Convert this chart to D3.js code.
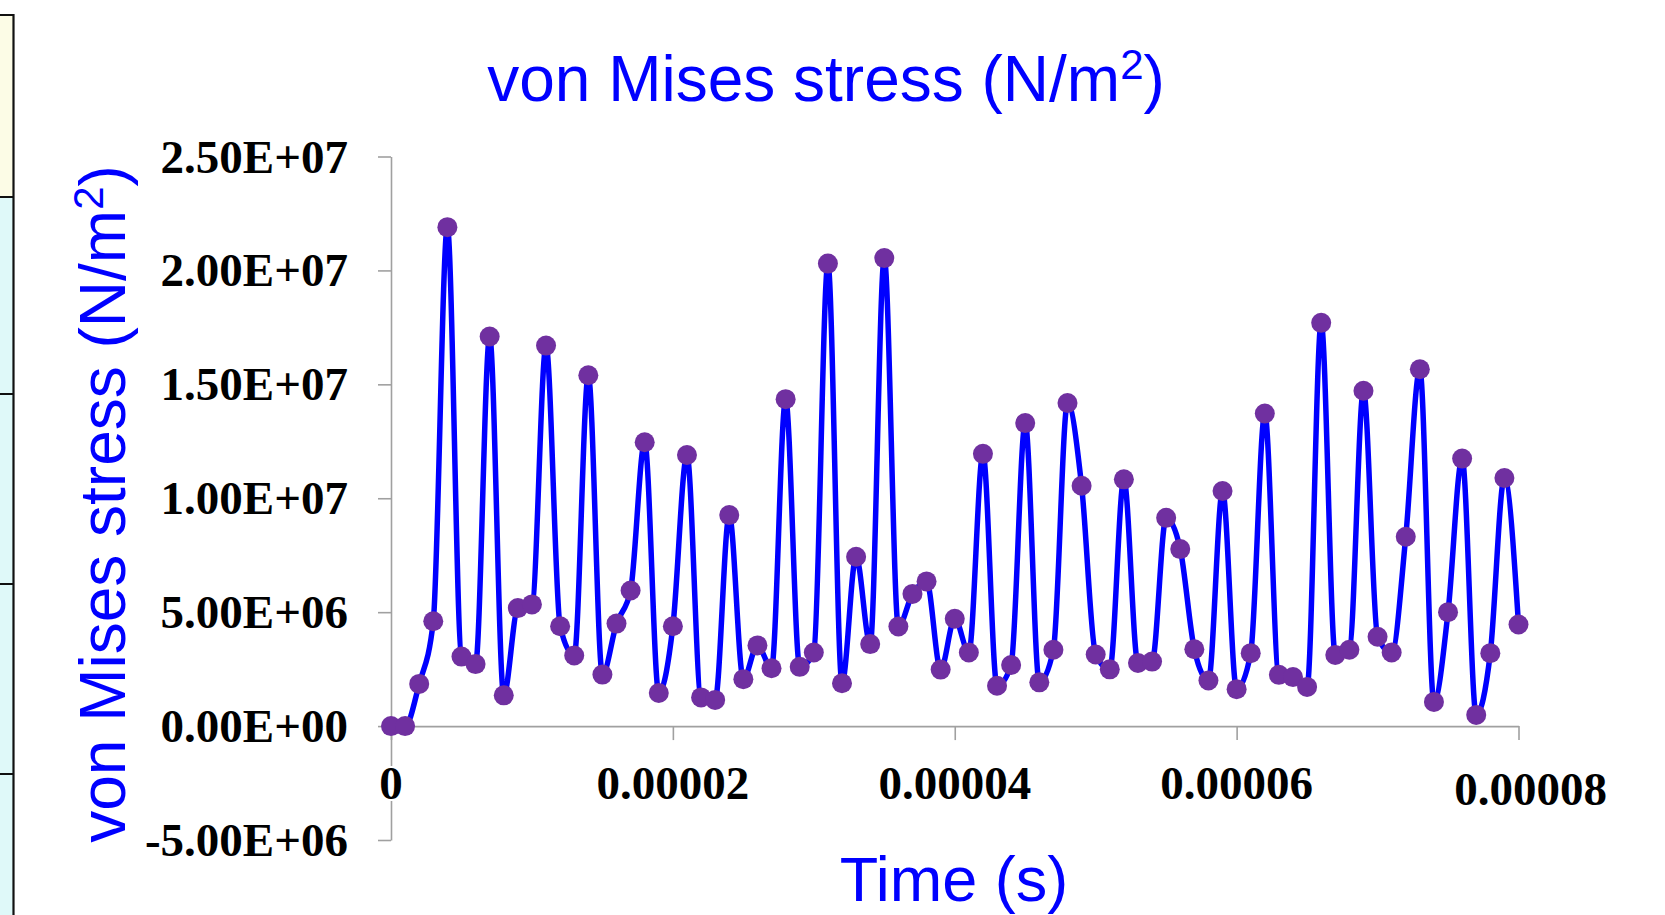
<!DOCTYPE html>
<html>
<head>
<meta charset="utf-8">
<script src="https://cdn.jsdelivr.net/npm/d3@7"></script>
<style>
  html, body { margin: 0; padding: 0; background: #ffffff; }
  svg { display: block; }
</style>
</head>
<body>
<svg id="chart" width="1665" height="915"></svg>
<script>
// ---------------- DATA ----------------
const timeUs = [0,1,2,3,4,5,6,7,8,9,10,11,12,13,14,15,16,17,18,19,20,
  21,22,23,24,25,26,27,28,29,30,31,32,33,34,35,36,37,38,39,40,
  41,42,43,44,45,46,47,48,49,50,51,52,53,54,55,56,57,58,59,60,
  61,62,63,64,65,66,67,68,69,70,71,72,73,74,75,76,77,78,79,80];
const stress = [
  0, 0, 1.85e6, 4.6e6, 2.19e7, 3.05e6, 2.72e6, 1.71e7, 1.35e6, 5.18e6,
  5.34e6, 1.67e7, 4.38e6, 3.1e6, 1.54e7, 2.26e6, 4.5e6, 5.95e6, 1.246e7, 1.45e6,
  4.38e6, 1.19e7, 1.26e6, 1.15e6, 9.26e6, 2.06e6, 3.54e6, 2.54e6, 1.435e7, 2.6e6,
  3.23e6, 2.03e7, 1.88e6, 7.43e6, 3.6e6, 2.054e7, 4.37e6, 5.8e6, 6.35e6, 2.48e6,
  4.71e6, 3.23e6, 1.195e7, 1.77e6, 2.68e6, 1.33e7, 1.92e6, 3.35e6, 1.418e7, 1.055e7,
  3.14e6, 2.49e6, 1.083e7, 2.77e6, 2.83e6, 9.14e6, 7.77e6, 3.37e6, 2.0e6, 1.032e7,
  1.62e6, 3.2e6, 1.372e7, 2.25e6, 2.15e6, 1.72e6, 1.77e7, 3.12e6, 3.35e6, 1.472e7,
  3.92e6, 3.23e6, 8.31e6, 1.566e7, 1.06e6, 5.0e6, 1.174e7, 0.49e6, 3.2e6, 1.089e7,
  4.46e6
];
const xTickValues = [0, 0.00002, 0.00004, 0.00006, 0.00008];
const xTickLabels = ["0", "0.00002", "0.00004", "0.00006", "0.00008"];
const yTickValues = [-5e6, 0, 5e6, 1e7, 1.5e7, 2e7, 2.5e7];
const yTickLabels = ["-5.00E+06", "0.00E+00", "5.00E+06", "1.00E+07", "1.50E+07", "2.00E+07", "2.50E+07"];
const chartTitle = "von Mises stress (N/m";
const yTitle = "von Mises stress (N/m";
const xTitle = "Time (s)";

// ---------------- LAYOUT ----------------
const svg = d3.select("#chart");
const blue = "#0000FF";
const purple = "#7030A0";
const axisGray = "#a0a0a0";
const serif = "'Liberation Serif', 'Times New Roman', serif";
const sans = "'Liberation Sans', Arial, sans-serif";

const x = d3.scaleLinear().domain([0, 0.00008]).range([391, 1518.5]);
const y = d3.scaleLinear().domain([-5e6, 2.5e7]).range([840, 156.5]);

const data = timeUs.map((t, i) => ({ t: t * 1e-6, v: stress[i] }));

// left decorative strip (partial cells at the left edge of the page)
const strip = svg.append("g");
const cellEdges = [15, 197, 394, 584, 774, 915];
for (let i = 0; i < cellEdges.length - 1; i++) {
  strip.append("rect")
    .attr("x", 0).attr("y", cellEdges[i])
    .attr("width", 13).attr("height", cellEdges[i + 1] - cellEdges[i])
    .attr("fill", i === 0 ? "#fcfce6" : "#dff9f9");
  strip.append("line")
    .attr("x1", 0).attr("x2", 14).attr("y1", cellEdges[i]).attr("y2", cellEdges[i])
    .attr("stroke", "#111").attr("stroke-width", 2);
}
strip.append("line")
  .attr("x1", 13.5).attr("x2", 13.5).attr("y1", 14).attr("y2", 915)
  .attr("stroke", "#111").attr("stroke-width", 2.2);

// Y axis
const yAxis = d3.axisLeft(y).tickValues(yTickValues).tickSize(13).tickSizeOuter(0)
  .tickFormat((d, i) => yTickLabels[i]);
const gy = svg.append("g").attr("transform", "translate(391,0)").call(yAxis);
gy.select(".domain").attr("stroke", axisGray).attr("stroke-width", 1.6);
gy.selectAll(".tick line").attr("stroke", axisGray).attr("stroke-width", 1.6);
gy.selectAll(".tick text")
  .attr("x", -43).attr("dy", "0.33em")
  .attr("fill", "#000")
  .style("font-family", serif).style("font-weight", "bold").style("font-size", "47px");

// X axis (at y = 0)
const xAxis = d3.axisBottom(x).tickValues(xTickValues).tickSize(14).tickSizeOuter(0)
  .tickFormat(() => "");
const gx = svg.append("g").attr("transform", `translate(0,${y(0)})`).call(xAxis);
gx.select(".domain").attr("stroke", axisGray).attr("stroke-width", 1.6);
gx.selectAll(".tick line").attr("stroke", axisGray).attr("stroke-width", 1.6);

// X tick labels
const xl = svg.append("g");
xTickValues.forEach((v, i) => {
  const last = i === xTickValues.length - 1;
  const lx = x(v) + (last ? 12 : 0);
  const ly = last ? 805 : 799;
  if (i === 0) {
    xl.append("rect").attr("x", lx - 13).attr("y", ly - 33)
      .attr("width", 26).attr("height", 35).attr("fill", "#fff");
  }
  xl.append("text")
    .attr("x", lx).attr("y", ly)
    .attr("text-anchor", "middle")
    .attr("fill", "#000")
    .style("font-family", serif).style("font-weight", "bold").style("font-size", "47px")
    .text(xTickLabels[i]);
});

// Line (smoothed, no overshoot)
const line = d3.line()
  .x(d => x(d.t)).y(d => y(d.v))
  .curve(d3.curveMonotoneX);
svg.append("path").datum(data)
  .attr("d", line)
  .attr("fill", "none")
  .attr("stroke", blue)
  .attr("stroke-width", 5.5)
  .attr("stroke-linejoin", "round");

// Markers
svg.append("g").selectAll("circle").data(data).join("circle")
  .attr("cx", d => x(d.t)).attr("cy", d => y(d.v))
  .attr("r", 10)
  .attr("fill", purple);

// Title
const title = svg.append("text")
  .attr("x", 826).attr("y", 101)
  .attr("text-anchor", "middle")
  .attr("fill", blue)
  .style("font-family", sans).style("font-size", "64px");
title.append("tspan").text(chartTitle);
title.append("tspan").attr("dy", -22).style("font-size", "42px").text("2");
title.append("tspan").attr("dy", 22).text(")");

// Y axis title
const yt = svg.append("text")
  .attr("transform", "translate(125,504) rotate(-90)")
  .attr("text-anchor", "middle")
  .attr("fill", blue)
  .style("font-family", sans).style("font-size", "64px");
yt.append("tspan").text(yTitle);
yt.append("tspan").attr("dy", -22).style("font-size", "42px").text("2");
yt.append("tspan").attr("dy", 22).text(")");

// X axis title
svg.append("text")
  .attr("x", 954).attr("y", 901)
  .attr("text-anchor", "middle")
  .attr("fill", blue)
  .style("font-family", sans).style("font-size", "63px")
  .text(xTitle);
</script>
</body>
</html>
